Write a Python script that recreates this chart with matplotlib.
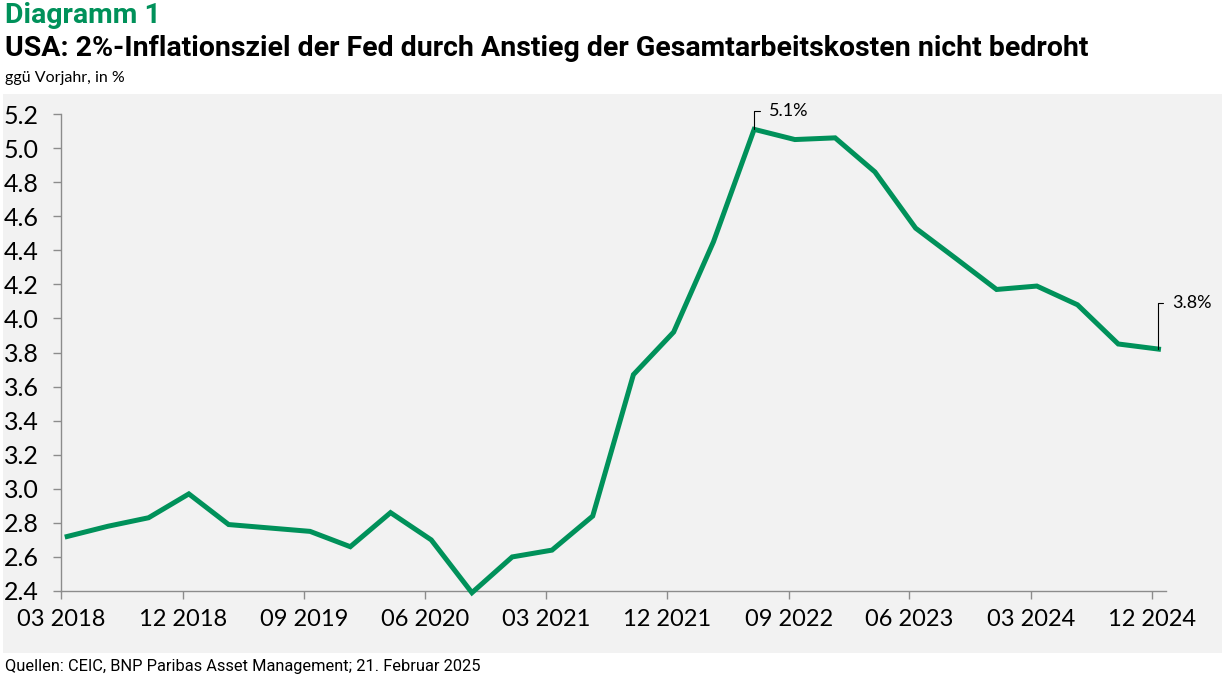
import matplotlib
matplotlib.use("Agg")
import matplotlib.pyplot as plt
from matplotlib.patches import Rectangle
import pandas as pd

# ---- data ----
quarters = pd.date_range("2018-03-01", "2024-12-01", freq="3MS") + pd.Timedelta(days=14)
values = [2.72, 2.78, 2.83, 2.97,
          2.79, 2.77, 2.75, 2.66,
          2.86, 2.70, 2.39, 2.60,
          2.64, 2.84, 3.67, 3.92,
          4.45, 5.11, 5.05, 5.06,
          4.86, 4.53, 4.35, 4.17,
          4.19, 4.08, 3.85, 3.82]
tick_dates = pd.date_range("2018-03-01", "2024-12-01", freq="9MS")
tick_labels = [d.strftime("%m %Y") for d in tick_dates]
yticks = [2.4, 2.6, 2.8, 3.0, 3.2, 3.4, 3.6, 3.8, 4.0, 4.2, 4.4, 4.6, 4.8, 5.0, 5.2]

title_kicker = "Diagramm 1"
title = "USA: 2%-Inflationsziel der Fed durch Anstieg der Gesamtarbeitskosten nicht bedroht"
subtitle = "ggü Vorjahr, in %"
source = "Quellen: CEIC, BNP Paribas Asset Management; 21. Februar 2025"

GREEN = "#00915A"
BG = "#f2f2f2"
AX = "#8c8c8c"
narrow = ["Roboto", "DejaVu Sans"]
body = ["Lato", "DejaVu Sans"]

W, H = 1224, 681
fig = plt.figure(figsize=(W / 100, H / 100), dpi=100)
fig.patch.set_facecolor("white")

# grey panel
fig.add_artist(Rectangle((3 / W, 1 - 653 / H), (1222 - 3) / W, (653 - 94) / H,
                         transform=fig.transFigure, facecolor=BG, edgecolor="none", zorder=0))

ax = fig.add_axes([61 / W, 1 - 591 / H, (1166 - 61) / W, (591 - 114) / H])
ax.set_facecolor("none")
ax.plot(quarters, values, color=GREEN, lw=3.6, solid_joinstyle="miter", clip_on=False, zorder=3)

ax.set_xlim(pd.Timestamp("2018-03-01"), pd.Timestamp("2025-01-01"))
ax.set_ylim(2.4, 5.2)
ax.set_xticks(tick_dates)
ax.set_xticklabels(tick_labels)
ax.set_yticks(yticks)
ax.set_yticklabels([f"{v:.1f}" for v in yticks])

for s in ["top", "right"]:
    ax.spines[s].set_visible(False)
for s in ["left", "bottom"]:
    ax.spines[s].set_color(AX)
    ax.spines[s].set_linewidth(1.0)
ax.tick_params(axis="y", direction="out", length=5.5, width=1, color=AX, pad=10.5)
ax.tick_params(axis="x", direction="out", length=5.8, width=1, color=AX, pad=7.5)
for lab in ax.get_yticklabels():
    lab.set_family(body)
    lab.set_fontsize(18)
    lab.set_color("black")
for lab in ax.get_xticklabels():
    lab.set_family(body)
    lab.set_fontsize(17)
    lab.set_color("black")

# annotations
ann_kw = dict(textcoords="offset points", ha="left", va="center", fontsize=13,
              family=body, color="black")
ax.annotate("5.1%", xy=(quarters[17], values[17]), xytext=(11, 13),
            arrowprops=dict(arrowstyle="-", color="black", lw=0.8,
                            connectionstyle="angle,angleA=0,angleB=90,rad=0",
                            shrinkA=5, shrinkB=0), **ann_kw)
ax.annotate("3.8%", xy=(quarters[-1], values[-1]), xytext=(10, 33),
            arrowprops=dict(arrowstyle="-", color="black", lw=0.8,
                            connectionstyle="angle,angleA=0,angleB=90,rad=0",
                            shrinkA=5, shrinkB=0), **ann_kw)

# titles
fig.text(5 / W, 1 - 2 / H, title_kicker, ha="left", va="top", fontsize=20.5,
         fontweight="bold", color=GREEN, family=narrow)
fig.text(5 / W, 1 - 35 / H, title, ha="left", va="top", fontsize=20.5,
         fontweight="bold", color="black", family=narrow)
fig.text(5 / W, 1 - 71 / H, subtitle, ha="left", va="top", fontsize=11.5,
         color="black", family=body)
fig.text(5 / W, 1 - 667 / H, source, ha="left", va="center", fontsize=11.8,
         color="black", family=narrow)

fig.savefig("out.png", dpi=100, facecolor="white")
